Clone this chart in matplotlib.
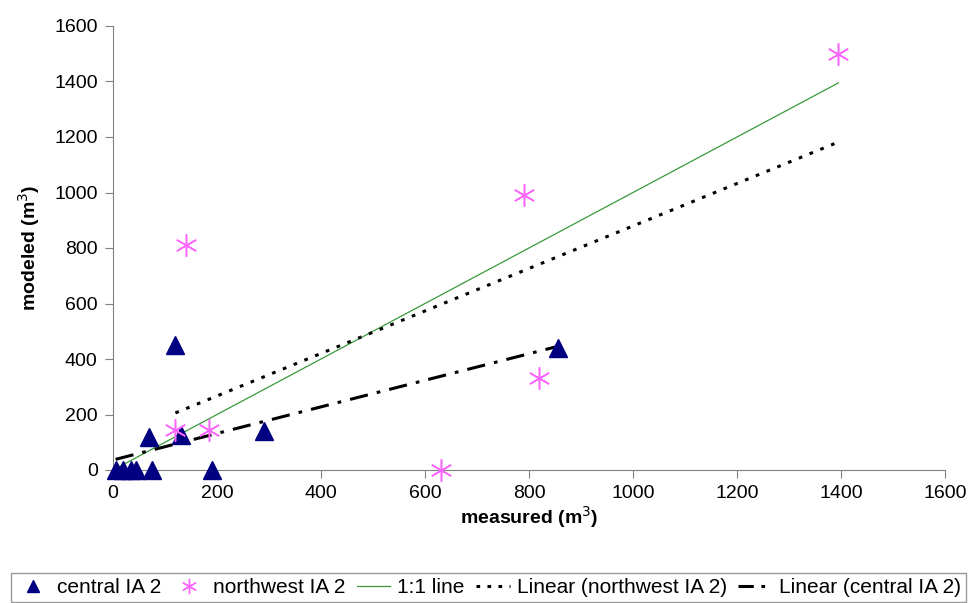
import matplotlib.pyplot as plt
import numpy as np
from matplotlib.lines import Line2D

plt.rcParams["font.family"] = ["Liberation Sans", "DejaVu Sans"]

# --- Data ---
central_x = [5, 20, 35, 45, 75, 190, 70, 120, 130, 290, 855]
central_y = [0, 0, 0, 0, 0, 0, 120, 450, 125, 140, 440]
nw_x = [120, 185, 140, 630, 790, 820, 1395]
nw_y = [145, 145, 810, 0, 990, 330, 1500]
one_to_one = [0, 1395]

# --- Linear fits (over each series' x range) ---
c_fit = np.polyfit(central_x, central_y, 1)
n_fit = np.polyfit(nw_x, nw_y, 1)
cx = np.array([min(central_x), max(central_x)])
nx = np.array([min(nw_x), max(nw_x)])

fig = plt.figure(figsize=(9.77, 6.03), dpi=100)
ax = fig.add_axes([113 / 977, 1 - 470 / 603, 832 / 977, 444 / 603])

DOT = (0, (1.2, 2.6))
DASHDOT = (0, (6, 3, 1.2, 3))

ax.plot(one_to_one, one_to_one, color="#3a9a3a", lw=0.9, zorder=2)
ax.plot(nx, np.polyval(n_fit, nx), color="black", lw=2.2, linestyle=DOT, zorder=3)
ax.plot(cx, np.polyval(c_fit, cx), color="black", lw=2.2, linestyle=DASHDOT, zorder=3)
ax.plot(central_x, central_y, linestyle="none", marker="^", ms=13,
        color="#000080", zorder=4, clip_on=False)
ax.plot(nw_x, nw_y, linestyle="none", marker=(6, 2, 0), ms=16, mew=1.1,
        color="#ff66ff", zorder=4, clip_on=False)

ax.set_xlim(0, 1600)
ax.set_ylim(0, 1600)
ax.set_xticks(range(0, 1601, 200))
ax.set_yticks(range(0, 1601, 200))
for side in ("top", "right"):
    ax.spines[side].set_visible(False)
for side in ("left", "bottom"):
    ax.spines[side].set_color("#808080")
ax.tick_params(colors="#808080", labelcolor="black", labelsize=14,
               direction="out", length=6, pad=5)
ax.set_xlabel("measured (m$^3$)", fontsize=14, fontweight="bold", labelpad=1)
ax.set_ylabel("modeled (m$^3$)", fontsize=14, fontweight="bold", labelpad=9)

# legend keys use a shorter dash rhythm so the dot fits in the key
handles = [
    Line2D([], [], linestyle="none", marker="^", ms=9, color="#000080"),
    Line2D([], [], linestyle="none", marker=(6, 2, 0), ms=11, mew=1.0,
           color="#ff66ff"),
    Line2D([], [], color="#3a9a3a", lw=0.9),
    Line2D([], [], color="black", lw=2.2, linestyle=(0, (1.2, 2.4))),
    Line2D([], [], color="black", lw=2.2, linestyle=(0, (5, 2.5, 1.2, 2.5))),
]
labels = ["central IA 2", "northwest IA 2", "1:1 line",
          "Linear (northwest IA 2)", "Linear (central IA 2)"]
leg = fig.legend(handles, labels, loc="lower center", ncol=5,
                 bbox_to_anchor=(0.5, 1 / 603),
                 fontsize=15, frameon=True, fancybox=False,
                 edgecolor="#808080", handlelength=1.6, handletextpad=0.35,
                 columnspacing=0.55, borderpad=0.25, borderaxespad=0.0)
leg.get_frame().set_linewidth(1.0)

fig.savefig("out.png", dpi=100)
